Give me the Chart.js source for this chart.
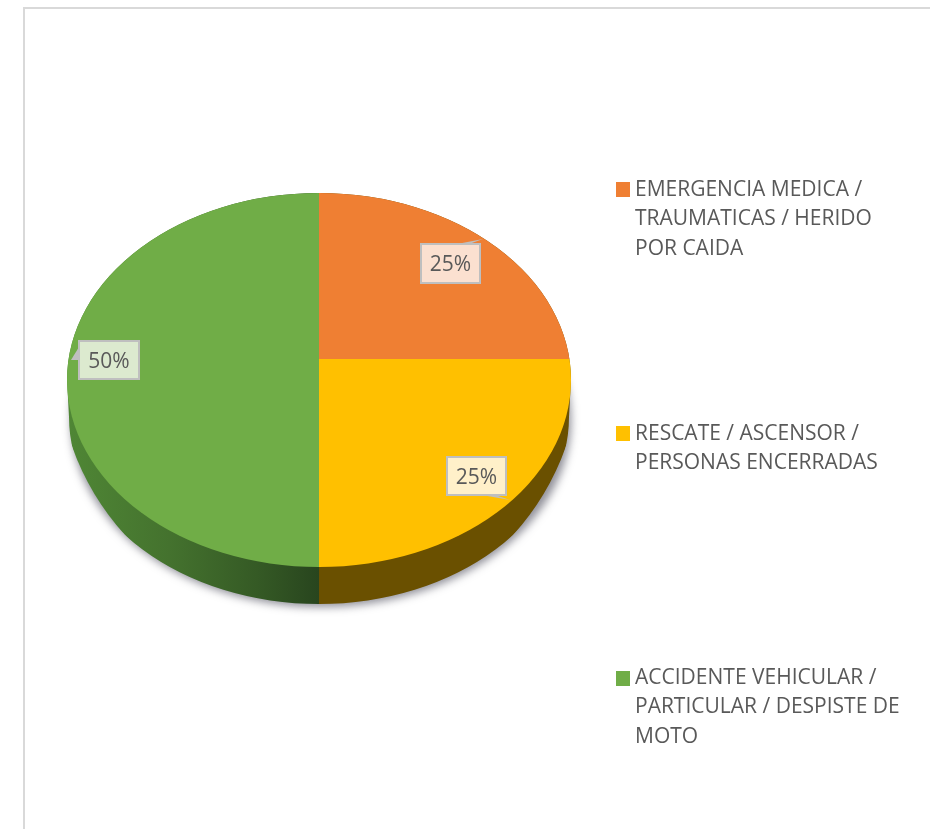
<!DOCTYPE html>
<html>
<head>
<meta charset="utf-8">
<title>Pie</title>
<script src="https://cdn.jsdelivr.net/npm/chart.js@4"></script>
<style>
  html, body { margin: 0; padding: 0; background: #fff; }
  canvas { display: block; }
</style>
</head>
<body>
<canvas id="myChart" width="930" height="829"></canvas>
<script>
// datos
const categories = [
  ['EMERGENCIA MEDICA /', 'TRAUMATICAS / HERIDO', 'POR CAIDA'],
  ['RESCATE / ASCENSOR /', 'PERSONAS ENCERRADAS'],
  ['ACCIDENTE VEHICULAR /', 'PARTICULAR / DESPISTE DE', 'MOTO']
];
const percentages = [25, 25, 50];
const sliceColors = ['#ef7f33', '#ffc000', '#70ad47'];

const FONT = '"Open Sans", sans-serif';
const TEXT_COLOR = '#595959';

// the disc is seen in perspective: the slices meet above the centre of the ellipse
const top3d = { x: 319, y: 380, rx: 252, ry: 187 };
const bottom3d = { x: 319, y: 417, rx: 250, ry: 187 };

// posicion de las etiquetas y su "cola"
const callouts = [
  { box: [421, 244, 59, 39], tail: [[457, 244], [483, 239], [469, 244]], fill: '#fbe0d0' },
  { box: [447, 457, 59, 38], tail: [[482, 495], [510, 500], [495, 495]], fill: '#fff0c9' },
  { box: [79, 341, 60, 38], tail: [[79, 347], [71, 360], [79, 360]], fill: '#dceacf' }
];
const legendBoxes = [
  { x: 616, y: 182, firstLine: 190 },
  { x: 616, y: 426, firstLine: 434 },
  { x: 616, y: 671, firstLine: 678 }
];

function hullPath(ctx) {
  ctx.beginPath();
  ctx.ellipse(top3d.x, top3d.y, top3d.rx, top3d.ry, 0, Math.PI, 0);
  ctx.ellipse(bottom3d.x, bottom3d.y, bottom3d.rx, bottom3d.ry, 0, 0, Math.PI);
  ctx.closePath();
}

const pie3d = {
  id: 'pie3d',
  beforeDraw(chart) {
    const ctx = chart.ctx;
    ctx.save();
    ctx.fillStyle = '#d9d9d9';
    ctx.fillRect(23, 7, 2, 822);
    ctx.fillRect(23, 7, 907, 2);
    ctx.restore();
  },
  beforeDatasetsDraw(chart) {
    const ctx = chart.ctx;
    const arcs = chart.getDatasetMeta(0).data;

    // sombra: the ellipse is off the canvas, only its shadow lands here
    ctx.save();
    ctx.shadowColor = 'rgba(70,70,85,0.6)';
    ctx.shadowBlur = 9;
    ctx.shadowOffsetX = 2002;
    ctx.shadowOffsetY = 3;
    ctx.fillStyle = '#000';
    ctx.beginPath();
    ctx.ellipse(bottom3d.x - 2000, bottom3d.y, bottom3d.rx, bottom3d.ry, 0, 0, Math.PI * 2);
    ctx.fill();
    ctx.restore();

    // lateral: same arcs, darker
    const greenSide = ctx.createLinearGradient(70, 0, 319, 0);
    greenSide.addColorStop(0, '#4f8635');
    greenSide.addColorStop(0.4, '#44722e');
    greenSide.addColorStop(0.75, '#355a25');
    greenSide.addColorStop(1, '#28451e');
    const sideColors = ['#6a4f00', '#6a5000', greenSide];

    ctx.save();
    hullPath(ctx);
    ctx.clip();
    arcs.forEach((arc, i) => {
      const saved = arc.options;
      arc.options = Object.assign({}, saved, { backgroundColor: sideColors[i] });
      arc.draw(ctx);
      arc.options = saved;
    });
    ctx.restore();

    // the library then draws the slices inside the top face
    ctx.save();
    ctx.beginPath();
    ctx.ellipse(top3d.x, top3d.y, top3d.rx, top3d.ry, 0, 0, Math.PI * 2);
    ctx.clip();
  },
  afterDatasetsDraw(chart) {
    const ctx = chart.ctx;
    ctx.restore();
    const values = chart.data.datasets[0].data;

    ctx.save();
    callouts.forEach((c, i) => {
      const [x, y, w, h] = c.box;
      ctx.fillStyle = c.fill;
      ctx.fillRect(x, y, w, h);
      ctx.strokeStyle = '#bfbfbf';
      ctx.lineWidth = 2;
      ctx.strokeRect(x, y, w, h);
      ctx.fillStyle = '#bfbfbf';
      ctx.beginPath();
      c.tail.forEach((p, k) => (k ? ctx.lineTo(p[0], p[1]) : ctx.moveTo(p[0], p[1])));
      ctx.closePath();
      ctx.fill();
      ctx.fillStyle = TEXT_COLOR;
      ctx.font = '21px ' + FONT;
      ctx.textAlign = 'center';
      ctx.textBaseline = 'middle';
      ctx.fillText(values[i] + '%', x + w / 2, y + h / 2 + 2);
    });

    // leyenda
    ctx.textAlign = 'left';
    ctx.textBaseline = 'middle';
    ctx.font = '21px ' + FONT;
    legendBoxes.forEach((b, i) => {
      ctx.fillStyle = chart.data.datasets[0].backgroundColor[i];
      ctx.fillRect(b.x, b.y, 14, 15);
      ctx.fillStyle = TEXT_COLOR;
      chart.data.labels[i].forEach((line, k) => {
        ctx.fillText(line, 635, b.firstLine + k * 29.3);
      });
    });
    ctx.restore();
  }
};

new Chart(document.getElementById('myChart').getContext('2d'), {
  type: 'pie',
  data: {
    labels: categories,
    datasets: [{
      data: percentages,
      backgroundColor: sliceColors,
      borderWidth: 0
    }]
  },
  options: {
    responsive: false,
    animation: false,
    // centro de los sectores en (319, 359)
    layout: { padding: { left: 57, right: 349, top: 97, bottom: 208 } },
    plugins: { legend: { display: false }, tooltip: { enabled: false } }
  },
  plugins: [pie3d]
});
</script>
</body>
</html>
